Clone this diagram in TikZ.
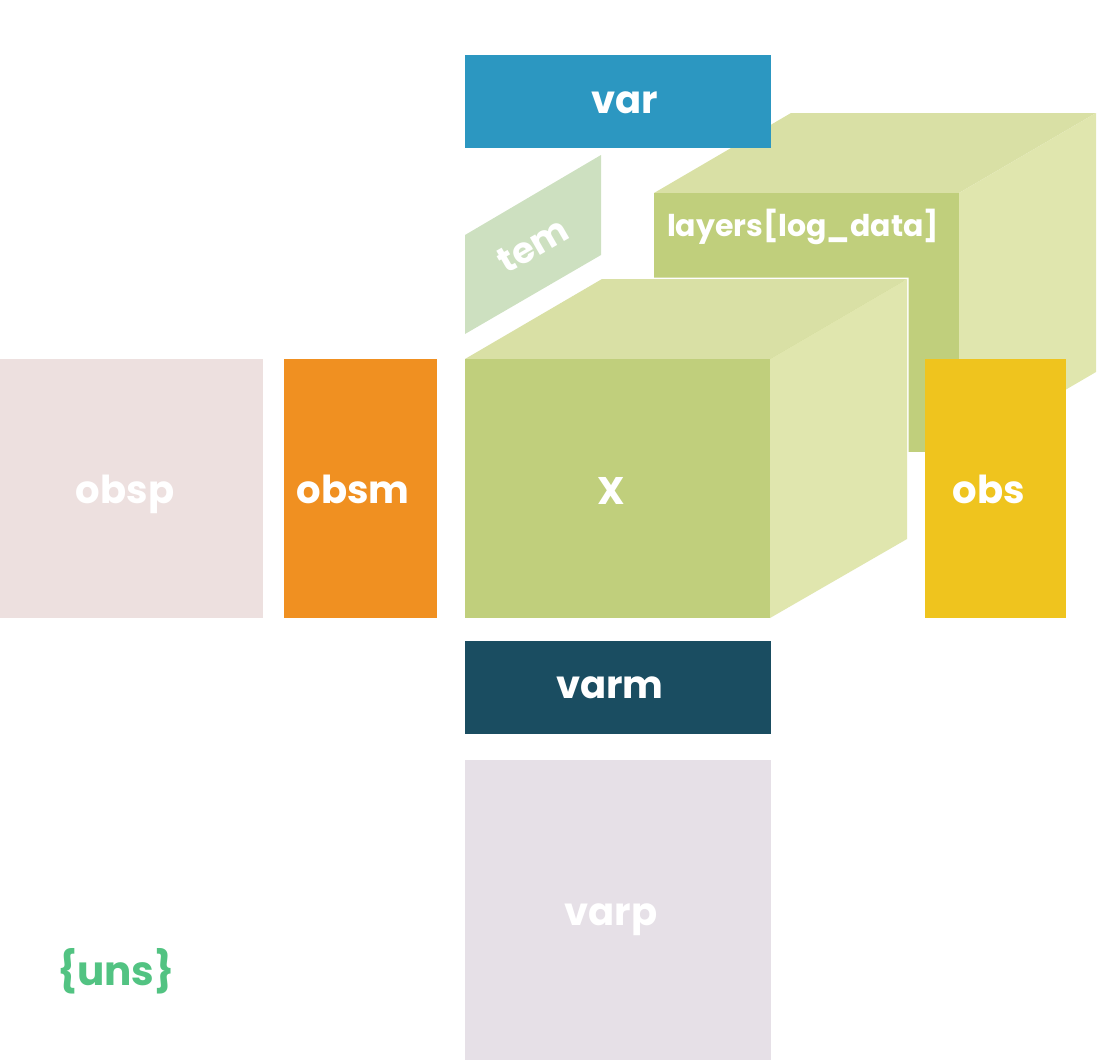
\documentclass[tikz,border=0pt]{standalone}
\usepackage{fontspec}
\setmainfont{Poppins}
\usepackage{tikz}
\definecolor{varc}{HTML}{2C97C1}
\definecolor{varmc}{HTML}{1A4D61}
\definecolor{varpc}{HTML}{E6E0E7}
\definecolor{obspc}{HTML}{EDE0DF}
\definecolor{obsmc}{HTML}{F09021}
\definecolor{obsc}{HTML}{EFC41E}
\definecolor{temc}{HTML}{CDE0C0}
\definecolor{frontc}{HTML}{C0CF7C}
\definecolor{topc}{HTML}{D9E0A5}
\definecolor{sidec}{HTML}{E0E6AE}
\definecolor{unsc}{HTML}{52C382}

\begin{document}
\begin{tikzpicture}[
  x=1pt,y=-1pt,
  every node/.style={inner sep=0pt,outer sep=0pt,text=white,font=\bfseries\fontsize{38.5}{38.5}\selectfont},
  lbl/.style={anchor=base},
  box/.style={anchor=north west,minimum width=#1},
  box/.default=306pt
]
\useasboundingbox (0,0) rectangle (1097,1061);

% layers cube (behind)
\fill[topc] (654,193) -- (791,113) -- (1096,113) -- (959,193) -- cycle;
\fill[sidec] (959,193) -- (1096,113) -- (1096,372) -- (959,452) -- cycle;
\fill[frontc] (654,193) rectangle (959,452);
\node[anchor=base west,font=\bfseries\fontsize{30}{30}\selectfont] (layers) at (667,236) {layers[log\_data]};

% tem slab
\fill[temc] (465,235) -- (601,155) -- (601,255) -- (465,334) -- cycle;
\node[rotate=30,font=\bfseries\fontsize{36}{36}\selectfont] (tem) at (533,245) {tem};

% X cube, white outline where it sits on the layers cube
\draw[white,line width=3pt,line join=miter] (465,359) -- (602,279) -- (907,279) -- (907,539) -- (770,618) -- (465,618);
\fill[topc] (465,359) -- (602,279) -- (907,279) -- (770,359) -- cycle;
\fill[sidec] (770,359) -- (907,279) -- (907,539) -- (770,618) -- cycle;
\fill[frontc] (465,359) rectangle (770,618);
\node[lbl] (X) at (611,504) {X};

% boxes round X
\node[box,minimum height=93pt,fill=varc] (var) at (465,55) {};
\node[lbl] (varlbl) at (625,113) {var};
\node[box,minimum height=93pt,fill=varmc] (varm) at (465,641) {};
\node[lbl] (varmlbl) at (610,698) {varm};
\node[box,minimum height=300pt,fill=varpc] (varp) at (465,760) {};
\node[lbl] (varplbl) at (611,925) {varp};
\node[box=263pt,minimum height=259pt,fill=obspc] (obsp) at (0,359) {};
\node[lbl] (obsplbl) at (125,503) {obsp};
\node[box=153pt,minimum height=259pt,fill=obsmc] (obsm) at (284,359) {};
\node[lbl] (obsmlbl) at (353,503) {obsm};
\node[box=141pt,minimum height=259pt,fill=obsc] (obs) at (925,359) {};
\node[lbl] (obslbl) at (989,503) {obs};

\node[lbl,text=unsc,font=\bfseries\fontsize{40.5}{40.5}\selectfont] (uns) at (116,985) {\{uns\}};
\end{tikzpicture}
\end{document}
